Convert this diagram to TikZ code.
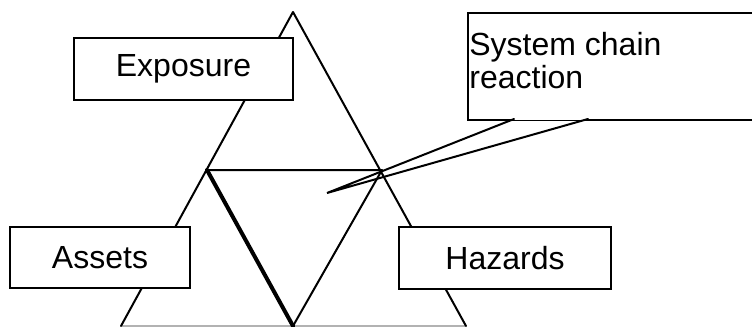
\documentclass[tikz,border=0pt]{standalone}
\usepackage{fontspec}
\setmainfont{Liberation Sans}
\begin{document}
\begin{tikzpicture}[x=0.5pt,y=-0.5pt,
  edge/.style={line width=1pt,line join=round,line cap=round},
  heavy/.style={line width=2pt,line cap=round},
  label box/.style={draw,line width=1pt,fill=white,inner sep=0pt,
    font=\fontsize{16}{16.5}\selectfont},
  callout text/.style={anchor=base west,inner sep=0pt,
    font=\fontsize{16}{16.5}\selectfont}]
  \useasboundingbox (0,0) rectangle (752,327);
  \clip (0,0) rectangle (752,327);

  % outer triangle and its midpoints
  \coordinate (apex) at (293,12);
  \coordinate (bl) at (121,326);
  \coordinate (br) at (466,326);
  \coordinate (ml) at (207,170);
  \coordinate (mr) at (382,170);
  \coordinate (mb) at (293,326);

  \draw[gray!60,line width=0.6pt] (bl) -- (br);
  \draw[edge] (bl) -- (apex) -- (br);
  \draw[edge] (ml) -- (mr) -- (mb);
  \draw[heavy] (ml) -- (mb);

  % labels on the three corners
  \node[label box,minimum width=109.5pt,minimum height=31pt] (exposure)
    at (183.5,69) {Exposure};
  \node[label box,minimum width=90pt,minimum height=30.5pt] (assets)
    at (100,257.5) {Assets};
  \node[label box,minimum width=106pt,minimum height=31pt] (hazards)
    at (505,258) {Hazards};

  % callout pointing into the centre triangle
  \node[draw,line width=1pt,fill=white,anchor=north west,inner sep=0pt,
    minimum width=150pt,minimum height=53.5pt] (callout) at (467,12) {};
  \coordinate (tip) at (327,193);
  \coordinate (cl) at (514,119);
  \coordinate (cr) at (588,119);
  \draw[white,line width=1.4pt] (cl) -- (cr);
  \draw[edge,line join=miter] (cl) -- (tip) -- (cr);
  \node[callout text] (line1) at (469,55) {System chain};
  \node[callout text] (line2) at (469,88) {reaction};
\end{tikzpicture}
\end{document}
